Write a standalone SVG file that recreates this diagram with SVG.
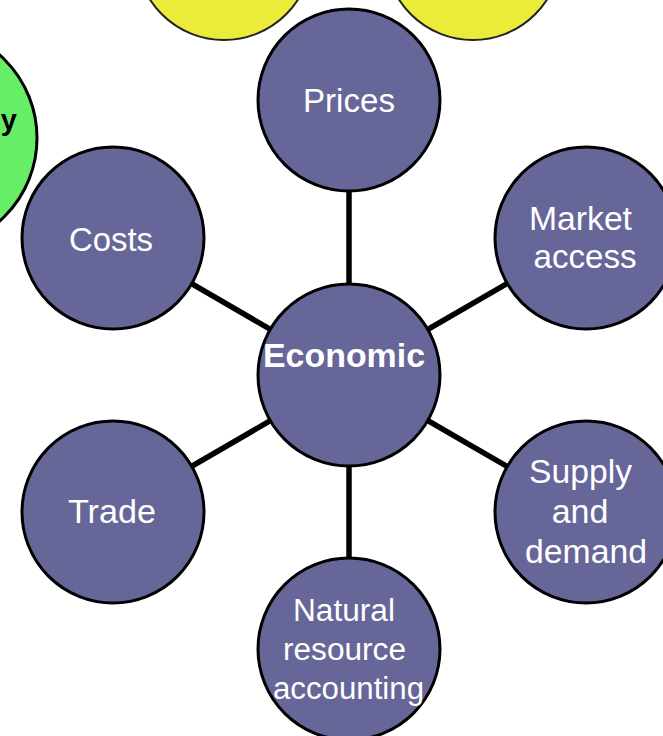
<svg xmlns="http://www.w3.org/2000/svg" width="663" height="736" viewBox="0 0 663 736">
<style>
.node{fill:#666699;stroke:#000;stroke-width:3}
.lbl{font-family:"Liberation Sans",Arial,sans-serif;fill:#fff;text-anchor:middle}
.conn{stroke:#000;stroke-width:5.5;fill:none}
.yel{fill:#EBEB3A;stroke:#222;stroke-width:2}
.grn{fill:#66EE66;stroke:#000;stroke-width:3}
</style>
<rect width="663" height="736" fill="#fff"/>
<g id="yellow-left"><circle class="yel" cx="224" cy="-48" r="88"/></g>
<g id="yellow-right"><circle class="yel" cx="473" cy="-48" r="88"/></g>
<g id="green"><circle class="grn" cx="-74" cy="138" r="111"/>
<text x="17" y="130" font-family="Liberation Sans, Arial, sans-serif" font-weight="bold" font-size="29" text-anchor="end" fill="#000">y</text></g>
<g id="connectors">
<line class="conn" x1="349" y1="375" x2="349" y2="100"/>
<line class="conn" x1="349" y1="375" x2="113" y2="238"/>
<line class="conn" x1="349" y1="375" x2="586" y2="238"/>
<line class="conn" x1="349" y1="375" x2="113" y2="512"/>
<line class="conn" x1="349" y1="375" x2="586" y2="512"/>
<line class="conn" x1="349" y1="375" x2="349" y2="649"/>
</g>
<g id="prices"><circle class="node" cx="349" cy="100" r="91"/>
<text class="lbl" x="349" y="112" font-size="33" textLength="92" lengthAdjust="spacingAndGlyphs">Prices</text></g>
<g id="costs"><circle class="node" cx="113" cy="238" r="91"/>
<text class="lbl" x="111" y="251" font-size="33" textLength="84" lengthAdjust="spacingAndGlyphs">Costs</text></g>
<g id="market-access"><circle class="node" cx="586" cy="238" r="91"/>
<text class="lbl" x="580.5" y="230" font-size="34" textLength="103" lengthAdjust="spacingAndGlyphs">Market</text>
<text class="lbl" x="585" y="268" font-size="34" textLength="103" lengthAdjust="spacingAndGlyphs">access</text></g>
<g id="trade"><circle class="node" cx="113" cy="512" r="91"/>
<text class="lbl" x="112" y="523" font-size="33" textLength="88" lengthAdjust="spacingAndGlyphs">Trade</text></g>
<g id="supply-demand"><circle class="node" cx="586" cy="512" r="91"/>
<text class="lbl" x="580.5" y="483" font-size="34" textLength="103" lengthAdjust="spacingAndGlyphs">Supply</text>
<text class="lbl" x="580" y="523" font-size="34">and</text>
<text class="lbl" x="586" y="563" font-size="34" textLength="122" lengthAdjust="spacingAndGlyphs">demand</text></g>
<g id="natural-resource-accounting"><circle class="node" cx="349" cy="649" r="91"/>
<text class="lbl" x="344" y="621" font-size="31" textLength="102" lengthAdjust="spacingAndGlyphs">Natural</text>
<text class="lbl" x="344.5" y="660" font-size="31" textLength="123" lengthAdjust="spacingAndGlyphs">resource</text>
<text class="lbl" x="348.5" y="699" font-size="31" textLength="151" lengthAdjust="spacingAndGlyphs">accounting</text></g>
<g id="economic"><circle class="node" cx="349" cy="375" r="91"/>
<text class="lbl" x="344" y="367" font-size="33" font-weight="bold" textLength="162" lengthAdjust="spacingAndGlyphs">Economic</text></g>
</svg>
